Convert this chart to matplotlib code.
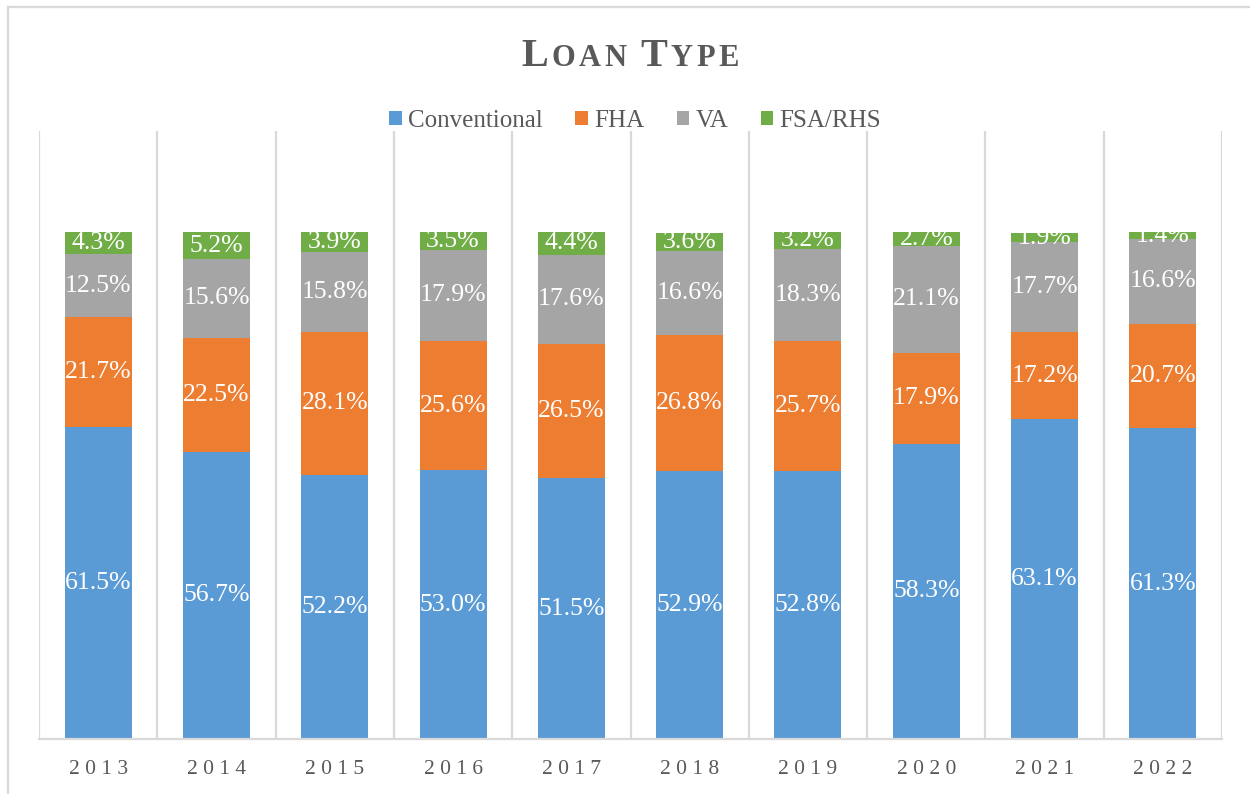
import matplotlib
matplotlib.use("Agg")
import matplotlib.pyplot as plt
import numpy as np
from matplotlib.patches import Patch
from matplotlib.lines import Line2D
from matplotlib.offsetbox import TextArea, HPacker, AnchoredOffsetbox

plt.rcParams['font.family'] = ['Liberation Serif', 'DejaVu Serif']

years = ["2013", "2014", "2015", "2016", "2017", "2018", "2019", "2020", "2021", "2022"]
series_names = ["Conventional", "FHA", "VA", "FSA/RHS"]
conventional = [61.5, 56.7, 52.2, 53.0, 51.5, 52.9, 52.8, 58.3, 63.1, 61.3]
fha = [21.7, 22.5, 28.1, 25.6, 26.5, 26.8, 25.7, 17.9, 17.2, 20.7]
va = [12.5, 15.6, 15.8, 17.9, 17.6, 16.6, 18.3, 21.1, 17.7, 16.6]
fsa_rhs = [4.3, 5.2, 3.9, 3.5, 4.4, 3.6, 3.2, 2.7, 1.9, 1.4]
colors = ["#5B9BD5", "#ED7D31", "#A5A5A5", "#70AD47"]

data = [conventional, fha, va, fsa_rhs]

fig = plt.figure(figsize=(12.5, 7.94), dpi=100)
ax = fig.add_axes([39/1250, 1-739/794, (1222-39)/1250, (739-131)/794])

x = np.arange(len(years))
bottom = np.zeros(len(years))
for vals, col, name in zip(data, colors, series_names):
    vals = np.array(vals)
    ax.bar(x, vals, 0.566, bottom=bottom, color=col, label=name, zorder=2)
    for xi, b, v in zip(x, bottom, vals):
        ax.text(xi, b + v/2, f"{v:.1f}%", ha='center', va='center',
                color='white', fontsize=18.5, zorder=3)
    bottom += vals

grid_col = "#D9D9D9"
for gx in np.arange(-0.5, len(years), 1.0):
    ax.axvline(gx, color=grid_col, lw=1.6, zorder=1)

ax.set_xlim(-0.5, len(years) - 0.5)
ax.set_ylim(0, 120)
ax.set_yticks([])
ax.set_xticks(x)
ax.set_xticklabels([" ".join(y) for y in years], fontsize=15.5, color="#595959")
ax.tick_params(axis='x', length=0, pad=15)
for s in ["left", "right", "top"]:
    ax.spines[s].set_visible(False)
ax.spines["bottom"].set_color(grid_col)
ax.spines["bottom"].set_linewidth(1.6)

# legend
handles = [Patch(facecolor=c, edgecolor='none') for c in colors]
fig.legend(handles, series_names, loc='center', bbox_to_anchor=(0.508, 1-121/794),
           ncol=4, frameon=False, fontsize=18, handlelength=0.5, handleheight=0.5,
           handletextpad=0.25, columnspacing=1.3, labelcolor="#595959")

# title in small caps
title_col = "#595959"
parts = [("L", 29), ("OAN", 22), (" ", 22), ("T", 29), ("YPE", 22)]
boxes = []
for txt, fs in parts:
    for ch in txt:
        boxes.append(TextArea(ch, textprops=dict(fontsize=fs, fontweight='bold', color=title_col)))
pack = HPacker(children=boxes, align="baseline", pad=0, sep=2.5)
anch = AnchoredOffsetbox(loc='center', child=pack, frameon=False,
                         bbox_to_anchor=(0.504, 1-56/794), bbox_transform=fig.transFigure,
                         borderpad=0, pad=0)
fig.add_artist(anch)

# outer chart border (top and left visible)
fig.add_artist(Line2D([8/1250, 1], [1-7/794, 1-7/794], color=grid_col, lw=1.6, transform=fig.transFigure))
fig.add_artist(Line2D([8/1250, 8/1250], [0, 1-7/794], color=grid_col, lw=1.6, transform=fig.transFigure))

fig.savefig("out.png", dpi=100)
